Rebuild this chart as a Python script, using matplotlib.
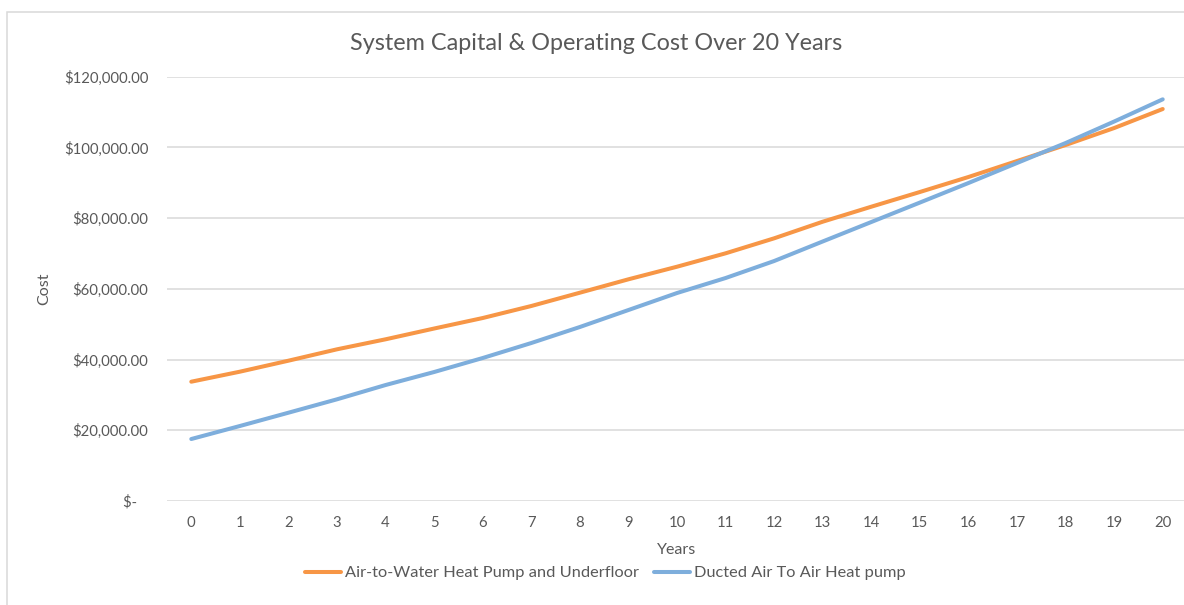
import numpy as np
import matplotlib.pyplot as plt
from matplotlib.patches import Rectangle

# cost per year
years = list(range(0, 21))
air_to_water = [33740, 36570, 39680, 42900, 45730, 48780, 51750, 55150, 58910, 62700,
                66260, 70050, 74290, 78990, 83230, 87390, 91630, 96150, 100680, 105480, 110860]
ducted_air = [17530, 21210, 24970, 28760, 32800, 36480, 40440, 44680, 49210, 54010,
              58820, 63060, 67870, 73400, 78900, 84400, 89930, 95590, 101240, 107320, 113600]
series_names = ["Air-to-Water Heat Pump and Underfloor", "Ducted Air To Air Heat pump"]
y_ticks = [0, 20000, 40000, 60000, 80000, 100000, 120000]
y_tick_labels = ["$-   ", "$20,000.00", "$40,000.00", "$60,000.00", "$80,000.00",
                 "$100,000.00", "$120,000.00"]

orange = "#F79646"
blue = "#7EAEDC"
text_col = "#595959"
grid_col = "#D9D9D9"

plt.rcParams['font.family'] = ['Lato', 'DejaVu Sans']

W, H = 1184, 605
fig = plt.figure(figsize=(W / 100, H / 100), dpi=100)

# chart area border (cropped on the right and bottom)
fig.patches.append(Rectangle((6.5 / W, -0.1), 2, (H - 12) / H + 0.1, transform=fig.transFigure,
                             fill=False, edgecolor=grid_col, linewidth=1.1))

left, right, top, bottom = 167, 1187, 76.7, 501
ax = fig.add_axes([left / W, 1 - bottom / H, (right - left) / W, (bottom - top) / H])

x = np.array(years)
l1 = ax.plot(x, air_to_water, color=orange, linewidth=2.9, solid_capstyle='round',
             solid_joinstyle='round', label=series_names[0])
l2 = ax.plot(x, ducted_air, color=blue, linewidth=2.9, solid_capstyle='round',
             solid_joinstyle='round', label=series_names[1])

ax.set_xlim(-0.5, 20.5)
ax.set_ylim(0, 120000)
ax.set_xticks(years)
ax.set_xticklabels([str(y) for y in years])
ax.set_yticks(y_ticks)
ax.set_yticklabels(y_tick_labels)
ax.tick_params(axis='both', length=0, colors=text_col, labelsize=10.7)
ax.tick_params(axis='y', pad=13.5)
ax.tick_params(axis='x', pad=11)

for s in ax.spines.values():
    s.set_visible(False)
ax.grid(axis='y', color=grid_col, linewidth=1.1)
ax.set_axisbelow(True)

ax.set_ylabel("Cost", color=text_col, fontsize=11.5)
ax.yaxis.set_label_coords((44 - left) / (right - left), 0.5)
ax.set_xlabel("Years", color=text_col, fontsize=11.5)
ax.xaxis.set_label_coords(0.5, -(550 - bottom) / (bottom - top))
ax.xaxis.label.set_va('center')
ax.yaxis.label.set_va('center')

fig.text(596.5 / W, 1 - 43 / H, "System Capital & Operating Cost Over 20 Years",
         ha='center', va='center', fontsize=16.8, color=text_col)

fig.legend(l1 + l2, series_names, loc='center', bbox_to_anchor=(605 / W, 1 - 573 / H),
           ncol=2, frameon=False, fontsize=11.8, labelcolor=text_col,
           handlelength=2.2, handletextpad=0.25, columnspacing=0.9)

plt.savefig("out.png", dpi=100)
plt.close()
